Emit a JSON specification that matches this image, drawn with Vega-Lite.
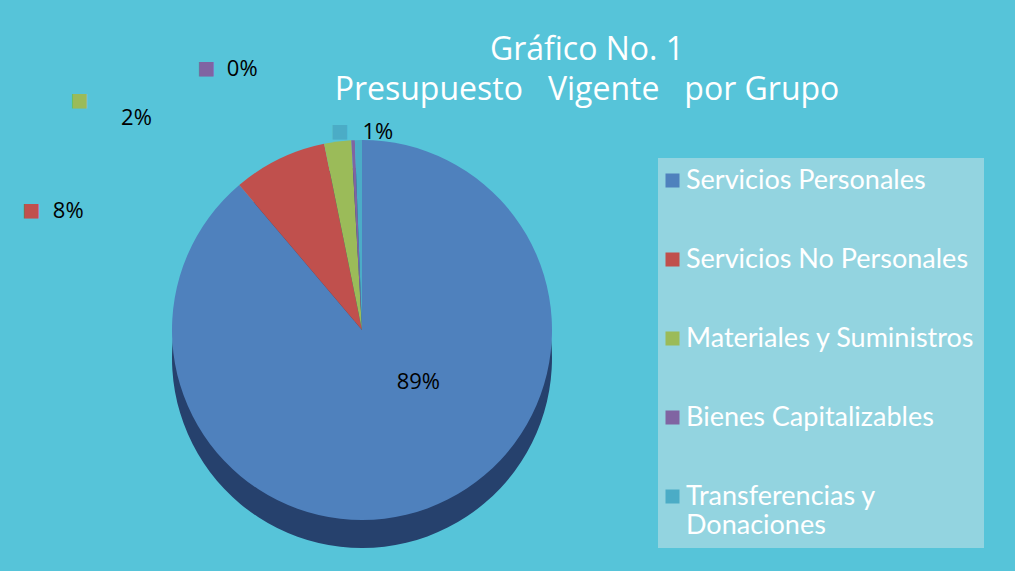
{
  "$schema": "https://vega.github.io/schema/vega-lite/v6.json",
  "width": 724,
  "height": 480,
  "autosize": {"type": "none"},
  "padding": {"left": 0, "top": 90, "right": 291, "bottom": 1},
  "background": "#56c4d9",
  "config": {"view": {"stroke": null}},
  "title": {
    "text": ["Gráfico No. 1", "Presupuesto\u00a0\u00a0 Vigente\u00a0\u00a0 por Grupo"],
    "color": "white",
    "fontSize": 32,
    "font": "Open Sans",
    "fontWeight": "normal",
    "anchor": "middle",
    "dx": 225,
    "offset": -57,
    "lineHeight": 40
  },
  "data": {
    "values": [
      {"grupo": "Servicios Personales", "valor": 89.0, "pct": "89%", "ord": 1},
      {"grupo": "Servicios No Personales", "valor": 8.0, "pct": "8%", "ord": 2},
      {"grupo": "Materiales y Suministros", "valor": 2.3, "pct": "2%", "ord": 3},
      {"grupo": "Bienes Capitalizables", "valor": 0.3, "pct": "0%", "ord": 4},
      {"grupo": "Transferencias y Donaciones", "valor": 0.6, "pct": "1%", "ord": 5}
    ]
  },
  "layer": [
    {
      "mark": {"type": "arc", "radius": 190, "yOffset": 28, "color": "#26416d"},
      "encoding": {
        "theta": {"field": "valor", "type": "quantitative", "stack": true},
        "order": {"field": "ord"}
      }
    },
    {
      "mark": {"type": "arc", "radius": 190},
      "encoding": {
        "theta": {"field": "valor", "type": "quantitative", "stack": true},
        "order": {"field": "ord"},
        "color": {
          "field": "grupo",
          "type": "nominal",
          "scale": {
            "domain": ["Servicios Personales", "Servicios No Personales", "Materiales y Suministros", "Bienes Capitalizables", "Transferencias y Donaciones"],
            "range": ["#4f81bd", "#c0504d", "#9bbb59", "#8064a2", "#4bacc6"]
          },
          "legend": {
            "orient": "none",
            "legendX": 658,
            "legendY": 68,
            "title": null,
            "fillColor": "#93d4e0",
            "padding": 9,
            "symbolType": "square",
            "symbolSize": 196,
            "symbolStrokeWidth": 0,
            "symbolOffset": -8,
            "labelFontSize": 27,
            "labelFont": "Lato",
            "labelColor": "white",
            "labelOffset": 0,
            "labelLimit": 400,
            "rowPadding": 51,
            "labelExpr": "datum.label == 'Transferencias y Donaciones' ? ['Transferencias y', 'Donaciones'] : datum.label"
          }
        }
      }
    },
    {
      "mark": {"type": "text", "radius": 77, "thetaOffset": -0.47, "fontSize": 22, "font": "Open Sans", "color": "black"},
      "encoding": {
        "theta": {"field": "valor", "type": "quantitative", "stack": true},
        "order": {"field": "ord"},
        "text": {"condition": {"test": "datum.grupo === 'Servicios Personales'", "field": "pct"}, "value": ""}
      }
    },
    {
      "mark": {"type": "text", "radius": 315, "thetaOffset": -0.75, "dy": -5, "fontSize": 22, "font": "Open Sans", "color": "black"},
      "encoding": {
        "theta": {"field": "valor", "type": "quantitative", "stack": true},
        "order": {"field": "ord"},
        "text": {"condition": {"test": "datum.grupo === 'Servicios No Personales'", "field": "pct"}, "value": ""}
      }
    },
    {
      "mark": {"type": "text", "radius": 306, "thetaOffset": -0.70, "dy": -5, "fontSize": 22, "font": "Open Sans", "color": "black"},
      "encoding": {
        "theta": {"field": "valor", "type": "quantitative", "stack": true},
        "order": {"field": "ord"},
        "text": {"condition": {"test": "datum.grupo === 'Materiales y Suministros'", "field": "pct"}, "value": ""}
      }
    },
    {
      "mark": {"type": "text", "radius": 283, "thetaOffset": -0.39, "dy": -5, "fontSize": 22, "font": "Open Sans", "color": "black"},
      "encoding": {
        "theta": {"field": "valor", "type": "quantitative", "stack": true},
        "order": {"field": "ord"},
        "text": {"condition": {"test": "datum.grupo === 'Bienes Capitalizables'", "field": "pct"}, "value": ""}
      }
    },
    {
      "mark": {"type": "text", "radius": 195, "thetaOffset": 0.10, "dy": -4, "fontSize": 22, "font": "Open Sans", "color": "black"},
      "encoding": {
        "theta": {"field": "valor", "type": "quantitative", "stack": true},
        "order": {"field": "ord"},
        "text": {"condition": {"test": "datum.grupo === 'Transferencias y Donaciones'", "field": "pct"}, "value": ""}
      }
    },
    {
      "mark": {"type": "text", "radius": 315, "thetaOffset": -0.75, "dx": -37, "dy": -5, "fontSize": 30, "color": "#c0504d"},
      "encoding": {
        "theta": {"field": "valor", "type": "quantitative", "stack": true},
        "order": {"field": "ord"},
        "text": {"condition": {"test": "datum.grupo === 'Servicios No Personales'", "value": "■"}, "value": ""}
      }
    },
    {
      "mark": {"type": "text", "radius": 306, "thetaOffset": -0.70, "dx": -57, "dy": -22, "fontSize": 30, "color": "#9bbb59"},
      "encoding": {
        "theta": {"field": "valor", "type": "quantitative", "stack": true},
        "order": {"field": "ord"},
        "text": {"condition": {"test": "datum.grupo === 'Materiales y Suministros'", "value": "■"}, "value": ""}
      }
    },
    {
      "mark": {"type": "text", "radius": 283, "thetaOffset": -0.39, "dx": -36, "dy": -5, "fontSize": 30, "color": "#8064a2"},
      "encoding": {
        "theta": {"field": "valor", "type": "quantitative", "stack": true},
        "order": {"field": "ord"},
        "text": {"condition": {"test": "datum.grupo === 'Bienes Capitalizables'", "value": "■"}, "value": ""}
      }
    },
    {
      "mark": {"type": "text", "radius": 195, "thetaOffset": 0.10, "dx": -38, "dy": -4, "fontSize": 30, "color": "#4bacc6"},
      "encoding": {
        "theta": {"field": "valor", "type": "quantitative", "stack": true},
        "order": {"field": "ord"},
        "text": {"condition": {"test": "datum.grupo === 'Transferencias y Donaciones'", "value": "■"}, "value": ""}
      }
    }
  ]
}
